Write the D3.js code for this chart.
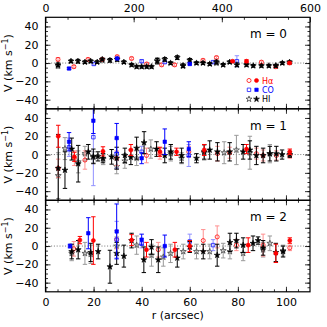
<!DOCTYPE html>
<html><head><meta charset="utf-8">
<script src="https://cdn.jsdelivr.net/npm/d3@7"></script>
<style>body{margin:0;background:#fff}svg{display:block;font-family:"DejaVu Sans",sans-serif}</style>
</head><body>
<script>
// ---- data: [r (arcsec), V (km/s), error] ----
const panelLabels = ["m = 0", "m = 1", "m = 2"];
const yTicks = [-40, -20, 0, 20, 40];
const xTicks = [0, 20, 40, 60, 80, 100];
const pcTicks = [0, 200, 400, 600];

const haOpen0 = [[5.2,4,2],[11.8,-4,1.5],[17.7,4,1.5],[23.6,4,1.5],[29.8,7,1.5],[35.8,5,1.5],[42.1,-1,1.5],[48.3,-2,1.5],[53.7,-2,1.5],[65.5,3,1.5],[71.1,6,1.5],[89.8,1,1.5],[95.8,-4,2]];
const haFilled0 = [[77.8,2,1],[83.6,2,1.5],[101.5,0,1]];
const coOpen0 = [[20.1,-1,1.5],[40,2,1.5],[49.6,1,1.5],[69.7,1,1.5],[79.6,2,6]];
const coFilled0 = [[9.8,-6,1],[29.8,5,1],[60,-1,1]];
const hiOpen0 = [[5.2,-3,3],[23.6,3,2],[46.5,3,3],[57.2,-3,2],[71.1,0,2],[95.8,-3,2]];
const hiFilled0 = [[5.2,-2,2],[10.6,2,1.5],[13.5,2,2],[16.4,1,1.5],[18.8,2,1.5],[21.5,1,1.5],[23.6,4,1.5],[26.8,3,2],[29.8,4,2],[32.6,1,1.5],[35.8,-2,1.5],[37.9,-4,1.5],[40,-4,1.5],[42.1,-4,1.5],[44.1,-4,1.5],[46.5,2,3],[49.6,4,2],[52,0,1.5],[54.8,6,2],[57.2,-3,2],[60,3,2],[62.8,0,1.5],[65.5,0,1.5],[68.3,-1,1.5],[71.1,1,2],[73.9,-2,1.5],[76.6,1,1.5],[79.6,-2,2],[83.6,-2,1.5],[86.4,-3,1.5],[89.8,-3,1.5],[92.9,-3,1.5],[95.8,-3,1.5],[98.5,0,1.5],[101.5,1,1.5]];

const haOpen1 = [[5.3,-15,10],[12,-4,8],[16.4,-6,10],[29.6,-4,8],[42,-1,8],[47.6,1,6],[59.6,3,6],[71.5,1,8],[76.6,2,6],[87.7,1,6],[90.5,-1,6],[96,-1,5],[101.6,-1,3]];
const haFilled1 = [[5.3,20,12],[12,-2.5,5],[23.9,3.5,5],[35.5,5,6],[47.6,3,5],[54.5,3,4],[66,5,6],[83.6,6,5],[101.6,3,3]];
const coOpen1 = [[9.8,8,10],[19.9,19,53],[29.6,1,16],[40,3,6],[59.6,-1,12]];
const coFilled1 = [[9.8,14,10],[19.9,37,14],[29.6,18,16],[40,-4,6],[49.6,14,14],[59.6,6,8]];
const hiOpen1 = [[5.3,-23,25],[8.1,6.5,12],[13.6,-8,12],[16.4,1,8],[19.9,-3,6],[24,-5,6],[29.6,-13,8],[33,-7,8],[37.9,-4,8],[43.8,6,10],[52.1,1,8],[56.6,-4,6],[66,2,8],[74.3,2,12],[79.4,5,16],[85,2,18],[93.3,1,10]];
const hiFilled1 = [[5.3,-15,37],[8.1,-17,20],[10.9,6,12],[13.6,-10,20],[17.8,3,8],[19.9,-2,8],[21.8,-2,5],[23.9,-4,5],[27.5,-2.5,8],[29.6,-4,12],[33,-1,8],[35.5,-3,8],[37.9,7,12],[41,13,12],[46.2,6,8],[49.6,-1,8],[52.1,3,8],[56.6,-1,8],[62.8,-4,5],[66,3,8],[68.3,5,10],[71.5,3,10],[76.6,3,10],[82.2,3,8],[85,5,10],[87.7,-1,10],[90.5,-1,8],[93.3,1,8],[96,1,8],[98.4,0,5],[101.6,0,3]];

const haOpen2 = [[11.8,-3,8],[29.6,7,10],[46.9,-4,8],[65.6,6,12],[71.4,10,12],[79.4,1,6],[90.5,1,12],[101.6,-2,3]];
const haFilled2 = [[14.3,6.5,4],[19.9,6,26],[35.8,6.5,6],[42,-4,8],[53.8,-4,8],[60,0,6],[84.3,1,8],[95.8,-8,10],[101.6,6,3]];
const coOpen2 = [[29.6,7,20],[40,3,5],[60,5,8],[69.7,1,6]];
const coFilled2 = [[10.2,0,2],[17.8,14,17],[29.6,16,30],[40,7,6],[49.6,0,12]];
const hiOpen2 = [[10.9,-8,8],[16.4,-8,12],[18.8,-9,10],[29.6,0,10],[37.9,1,10],[44.1,-10,12],[49,-12,10],[52,-8,10],[57.3,-6,8],[62.8,-6,8],[68.3,-6,8],[73.9,-5,8],[76.7,-6,8],[82.2,-8,8],[90.5,-4,8],[93.3,3,8],[98.8,-5,6]];
const hiFilled2 = [[10.9,-6,8],[13.6,-4,10],[18.8,-7,10],[21.9,-6,8],[26.8,-22.6,18],[29.6,-8,12],[32.6,-11,12],[35.8,6,8],[40.9,-15,14],[44.1,-1,8],[46.9,-15,14],[54.8,-13,10],[60,-1,6],[65.6,-6,8],[71.4,-10,12],[76.7,4,10],[79.4,6,8],[82.2,1,8],[86.3,3,8],[88.4,6,4],[90.5,-2,8],[95.8,-7,10],[98.8,-6,6]];

const panels = [
  {hiO:hiOpen0, hiF:hiFilled0, haO:haOpen0, haF:haFilled0, coO:coOpen0, coF:coFilled0},
  {hiO:hiOpen1, hiF:hiFilled1, haO:haOpen1, haF:haFilled1, coO:coOpen1, coF:coFilled1},
  {hiO:hiOpen2, hiF:hiFilled2, haO:haOpen2, haF:haFilled2, coO:coOpen2, coF:coFilled2}
];

// ---- layout ----
const W = 327, H = 327;
const L = 45.5, R = 310, T0 = 17.3, PH = 91.5;
const svg = d3.select("body").append("svg").attr("width", W).attr("height", H);
const x = d3.scaleLinear().domain([0, 110]).range([L, R]);
const xpc = d3.scaleLinear().domain([0, 600]).range([L, R]);
const fs = 11;

const styles = {
  hiO: {sym: d3.symbolStar, size: 11, fill: "none", stroke: "#555", err: "#999", sw: 0.9},
  hiF: {sym: d3.symbolStar, size: 11, fill: "#000", stroke: "#000", err: "#000", sw: 0.6},
  haO: {sym: d3.symbolCircle, size: 13, fill: "none", stroke: "#ff2020", err: "#ff9090", sw: 0.9},
  haF: {sym: d3.symbolCircle, size: 13, fill: "#ff0000", stroke: "#ff0000", err: "#ff0000", sw: 0.6},
  coO: {sym: d3.symbolSquare, size: 12, fill: "none", stroke: "#3030ff", err: "#9090ff", sw: 0.9},
  coF: {sym: d3.symbolSquare, size: 12, fill: "#0000ff", stroke: "#0000ff", err: "#0000ff", sw: 0.6}
};
const order = ["hiO", "haO", "coO", "hiF", "haF", "coF"];

panels.forEach((p, i) => {
  const top = T0 + i * PH, bot = top + PH;
  const y = d3.scaleLinear().domain([-50, 50]).range([bot, top]);
  const g = svg.append("g");
  const cid = "clip" + i;
  svg.append("clipPath").attr("id", cid).append("rect").attr("x", L).attr("y", top).attr("width", R - L).attr("height", PH);

  // zero line
  g.append("line").attr("x1", L).attr("x2", R).attr("y1", y(0)).attr("y2", y(0))
    .attr("stroke", "#666").attr("stroke-width", 0.9).attr("stroke-dasharray", "1,1.8");

  const data = g.append("g").attr("clip-path", `url(#${cid})`);
  order.forEach(k => {
    const st = styles[k];
    const d = p[k];
    const eg = data.append("g").attr("stroke", st.err).attr("stroke-width", 1);
    d.forEach(([r, v, e]) => {
      const cx = x(r);
      eg.append("line").attr("x1", cx).attr("x2", cx).attr("y1", y(v - e)).attr("y2", y(v + e));
      [v - e, v + e].forEach(vv => eg.append("line").attr("x1", cx - 2.2).attr("x2", cx + 2.2).attr("y1", y(vv)).attr("y2", y(vv)));
    });
    data.append("g").selectAll("path").data(d).join("path")
      .attr("transform", dd => `translate(${x(dd[0])},${y(dd[1])})`)
      .attr("d", d3.symbol(st.sym, st.size))
      .attr("fill", st.fill).attr("stroke", st.stroke).attr("stroke-width", st.sw);
  });

  // axes
  const ax = (gen) => { const a = svg.append("g"); a.call(gen); a.select(".domain").remove(); a.selectAll("text").attr("font-size", fs).attr("font-family", "DejaVu Sans, sans-serif").attr("fill", "#000"); return a; };
  const minorY = d3.range(-45, 50, 5);
  ax(d3.axisLeft(y).tickValues(minorY).tickSize(-2.5).tickFormat("")).attr("transform", `translate(${L},0)`);
  ax(d3.axisLeft(y).tickValues(yTicks).tickSize(-5).tickPadding(7)).attr("transform", `translate(${L},0)`);
  ax(d3.axisRight(y).tickValues(minorY).tickSize(-2.5).tickFormat("")).attr("transform", `translate(${R},0)`);
  ax(d3.axisRight(y).tickValues(yTicks).tickSize(-5).tickFormat("")).attr("transform", `translate(${R},0)`);

  const minorX = d3.range(5, 110, 5);
  ax(d3.axisBottom(x).tickValues(minorX).tickSize(-2.5).tickFormat("")).attr("transform", `translate(0,${bot})`);
  ax(d3.axisBottom(x).tickValues(xTicks).tickSize(-5).tickPadding(6).tickFormat(i === 2 ? d3.format("d") : "")).attr("transform", `translate(0,${bot})`);
  if (i === 0) {
    ax(d3.axisTop(xpc).tickValues(d3.range(50, 600, 50)).tickSize(-2.5).tickFormat("")).attr("transform", `translate(0,${top})`);
    ax(d3.axisTop(xpc).tickValues(pcTicks).tickSize(-5).tickPadding(5)).attr("transform", `translate(0,${top})`);
  } else {
    ax(d3.axisTop(x).tickValues(minorX).tickSize(-2.5).tickFormat("")).attr("transform", `translate(0,${top})`);
    ax(d3.axisTop(x).tickValues(xTicks).tickSize(-5).tickFormat("")).attr("transform", `translate(0,${top})`);
  }
  svg.selectAll(".tick line").attr("stroke", "#000").attr("stroke-width", 0.8);

  // frame
  svg.append("rect").attr("x", L).attr("y", top).attr("width", R - L).attr("height", PH)
    .attr("fill", "none").attr("stroke", "#000").attr("stroke-width", 1.2);

  // panel label
  svg.append("text").attr("x", 250).attr("y", top + 21).attr("font-size", 12).attr("xml:space", "preserve").text(panelLabels[i]);

  // y label
  const yl = svg.append("text").attr("transform", `translate(12,${(top + bot) / 2}) rotate(-90)`)
    .attr("text-anchor", "middle").attr("font-size", fs);
  yl.append("tspan").text("V (km s");
  yl.append("tspan").attr("font-size", 8).attr("dy", -4).text("−1");
  yl.append("tspan").attr("dy", 4).text(")");
});

// x label
svg.append("text").attr("x", (L + R) / 2).attr("y", 319).attr("text-anchor", "middle").attr("font-size", fs).text("r (arcsec)");

// legend
const legend = [
  {o: "haO", f: "haF", label: "Hα", color: "#ff0000"},
  {o: "coO", f: "coF", label: "CO", color: "#0000ff"},
  {o: "hiO", f: "hiF", label: "HI", color: "#000"}
];
legend.forEach((d, j) => {
  const ly = 80.5 + j * 9.3;
  [d.o, d.f].forEach((k, m) => {
    const st = styles[k];
    svg.append("path").attr("transform", `translate(${249 + m * 7.5},${ly})`)
      .attr("d", d3.symbol(st.sym, st.size)).attr("fill", st.fill).attr("stroke", st.stroke).attr("stroke-width", st.sw);
  });
  svg.append("text").attr("x", 262).attr("y", ly + 3).attr("font-size", 8).attr("fill", d.color).text(d.label);
});
</script>
</body></html>
